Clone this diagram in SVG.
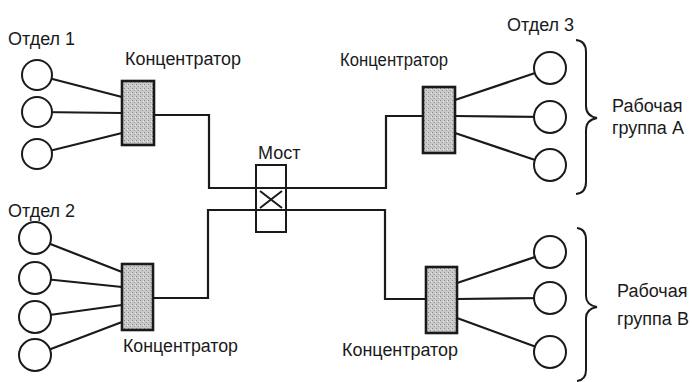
<svg xmlns="http://www.w3.org/2000/svg" width="692" height="382" viewBox="0 0 692 382">
<style>
.t{font-family:"Liberation Sans",Arial,sans-serif;font-size:18px;fill:#1a1a1a}
.w{stroke:#1a1a1a;stroke-width:2.2;fill:none}
.pc{fill:#fff;stroke:#1a1a1a;stroke-width:2}
.hub{fill:url(#dots);stroke:#1a1a1a;stroke-width:2.6}
.br{fill:none;stroke:#1a1a1a;stroke-width:2}
</style>
<defs>
<pattern id="dots" width="4" height="4" patternUnits="userSpaceOnUse">
<rect width="4" height="4" fill="#c9c9c9"/>
<rect x="0" y="0" width="1" height="1" fill="#8a8a8a"/>
<rect x="2" y="2" width="1" height="1" fill="#9a9a9a"/>
<rect x="3" y="1" width="1" height="1" fill="#e6e6e6"/>
</pattern>
</defs>
<rect width="692" height="382" fill="#fff"/>
<g id="connectors" class="w">
<path d="M37,75 L122,97 M37,112 L122,113 M37,154 L122,133"/>
<path d="M35,238 L122,272 M35,278 L122,287 M35,317 L122,305 M35,355 L122,322"/>
<path d="M550,68 L455,100 M550,117 L455,116 M550,165 L455,133"/>
<path d="M550,252 L457,283 M550,298 L457,299 M550,352 L457,318"/>
<path d="M154,115 H209 V188 H386 V116 H423"/>
<path d="M153,298 H208 V210 H385 V299 H426"/>
</g>
<g id="dept1">
<text class="t" x="8" y="45">Отдел 1</text>
<circle class="pc" cx="37" cy="75" r="15"/>
<circle class="pc" cx="37" cy="112" r="15"/>
<circle class="pc" cx="37" cy="154" r="15"/>
</g>
<g id="hub1">
<rect class="hub" x="122" y="81" width="32" height="64"/>
<text class="t" x="125" y="65" textLength="116" lengthAdjust="spacingAndGlyphs">Концентратор</text>
</g>
<g id="dept2">
<text class="t" x="8" y="217">Отдел 2</text>
<circle class="pc" cx="35" cy="238" r="16"/>
<circle class="pc" cx="35" cy="278" r="16"/>
<circle class="pc" cx="35" cy="317" r="16"/>
<circle class="pc" cx="35" cy="355" r="16"/>
</g>
<g id="hub2">
<rect class="hub" x="122" y="264" width="31" height="66"/>
<text class="t" x="123" y="352" textLength="115" lengthAdjust="spacingAndGlyphs">Концентратор</text>
</g>
<g id="bridge">
<text class="t" x="258" y="159">Мост</text>
<rect class="br" x="256" y="165" width="30" height="67"/>
<path class="br" d="M260,191 L282,208 M260,208 L282,191"/>
</g>
<g id="hubA">
<rect class="hub" x="423" y="87" width="32" height="66"/>
<text class="t" x="340" y="66" textLength="108" lengthAdjust="spacingAndGlyphs">Концентратор</text>
</g>
<g id="dept3">
<text class="t" x="507" y="31">Отдел 3</text>
<circle class="pc" cx="550" cy="68" r="16"/>
<circle class="pc" cx="550" cy="117" r="16"/>
<circle class="pc" cx="550" cy="165" r="16"/>
</g>
<g id="groupA">
<path class="br" d="M576,40 Q586,41 586,52 V106 Q586,116 597,118 Q586,120 586,130 V182 Q586,193 576,194"/>
<text class="t" x="612" y="112">Рабочая</text>
<text class="t" x="612" y="134">группа А</text>
</g>
<g id="hubB">
<rect class="hub" x="426" y="267" width="31" height="66"/>
<text class="t" x="342" y="356" textLength="116" lengthAdjust="spacingAndGlyphs">Концентратор</text>
</g>
<g id="deptB">
<circle class="pc" cx="550" cy="252" r="16"/>
<circle class="pc" cx="550" cy="298" r="16"/>
<circle class="pc" cx="550" cy="352" r="16"/>
</g>
<g id="groupB">
<path class="br" d="M577,228 Q586,229 586,240 V296 Q586,305 597,307 Q586,309 586,318 V370 Q586,380 577,381"/>
<text class="t" x="617" y="297">Рабочая</text>
<text class="t" x="617" y="325">группа В</text>
</g>
</svg>
